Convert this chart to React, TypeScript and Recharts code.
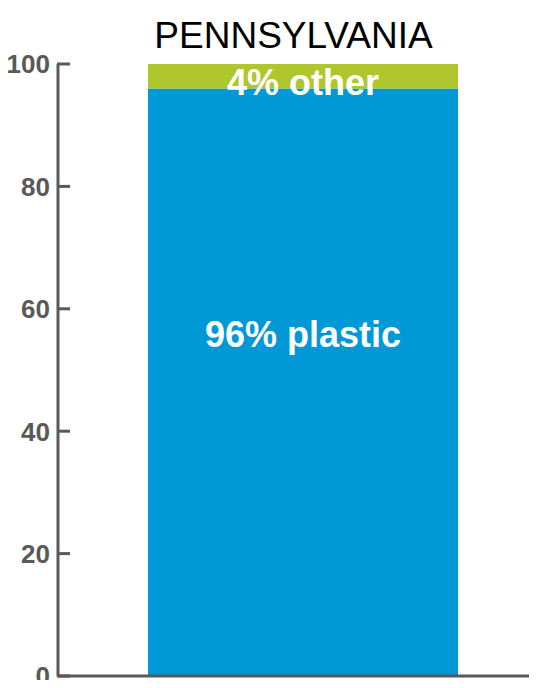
import { BarChart, Bar, XAxis, YAxis, LabelList } from 'recharts';

const categories = ['Pennsylvania'];
const plastic = [96];
const other = [4];
const yTicks = [0, 20, 40, 60, 80, 100];

const data = categories.map((name, i) => ({
  name,
  plastic: plastic[i],
  other: other[i],
}));

const AXIS = '#595959';
const FONT = '"Liberation Sans", Arial, Helvetica, sans-serif';
const TICK_GAP = 8;

// label left of the axis, short tick mark pointing into the plot
function InnerTick({ x, y, payload }: any) {
  const axisX = x + TICK_GAP;
  return (
    <g>
      <rect x={axisX - 1} y={y - 1.5} width={13} height={3} fill={AXIS} />
      <text
        x={x}
        y={y}
        dy="0.36em"
        textAnchor="end"
        fill={AXIS}
        fontFamily={FONT}
        fontWeight="bold"
        fontSize={26}
      >
        {payload.value}
      </text>
    </g>
  );
}

// white label placed at a fraction of the segment height
const segmentLabel = (suffix: string, frac: number, dy: number) => (props: any) => {
  const { x, y, width, height, value } = props;
  return (
    <text
      x={x + width / 2}
      y={y + height * frac}
      dy={dy}
      textAnchor="middle"
      fill="#ffffff"
      fontFamily={FONT}
      fontWeight="bold"
      fontSize={36}
    >
      {`${value}% ${suffix}`}
    </text>
  );
};

export default function App() {
  return (
    <div style={{ position: 'relative', width: 537, height: 688, margin: -8, background: '#fff' }}>
      <div
        style={{
          position: 'absolute',
          left: 0,
          top: 15,
          width: 587,
          textAlign: 'center',
          fontFamily: FONT,
          fontSize: 37,
          color: '#000',
          lineHeight: '42px',
        }}
      >
        PENNSYLVANIA
      </div>
      <BarChart
        width={537}
        height={688}
        data={data}
        margin={{ top: 64, right: 0, left: 0, bottom: 11 }}
      >
        <XAxis
          dataKey="name"
          height={1}
          tick={false}
          tickLine={false}
          axisLine={{ stroke: AXIS, strokeWidth: 3 }}
          padding={{ left: 10, right: 0 }}
        />
        <YAxis
          width={58}
          domain={[0, 100]}
          ticks={yTicks}
          interval={0}
          tickSize={0}
          tickMargin={TICK_GAP}
          tickLine={false}
          tick={<InnerTick />}
          axisLine={{ stroke: AXIS, strokeWidth: 3 }}
        />
        <Bar dataKey="plastic" stackId="a" fill="#0098D6" barSize={310} isAnimationActive={false}>
          <LabelList dataKey="plastic" content={segmentLabel('plastic', 0.42, 12)} />
        </Bar>
        <Bar dataKey="other" stackId="a" fill="#AFC72C" barSize={310} isAnimationActive={false}>
          <LabelList dataKey="other" content={segmentLabel('other', 0.5, 19)} />
        </Bar>
      </BarChart>
    </div>
  );
}
